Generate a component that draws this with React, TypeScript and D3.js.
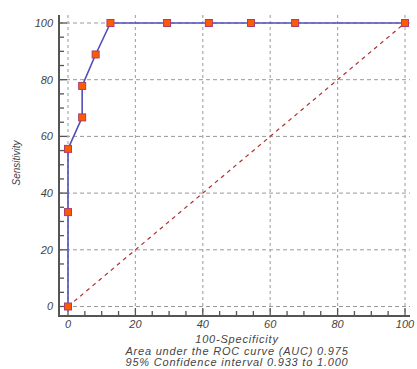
import React from "react";
import * as d3 from "d3";

// ROC curve points (100-Specificity, Sensitivity)
const fpr = [0, 0, 0, 4.2, 4.2, 8.2, 12.6, 29.4, 41.8, 54.3, 67.4, 100];
const tpr = [0, 33.3, 55.6, 66.7, 77.8, 88.9, 100, 100, 100, 100, 100, 100];
const majorTicks = [0, 20, 40, 60, 80, 100];
const minorTicks = d3.range(0, 101, 5);
const xLabel = "100-Specificity";
const yLabel = "Sensitivity";
const notes = ["Area under the ROC curve (AUC) 0.975", "95% Confidence interval 0.933 to 1.000"];

const W = 417;
const H = 369;

const App = () => {
  const x = d3.scaleLinear().domain([0, 100]).range([68, 405]);
  const y = d3.scaleLinear().domain([0, 100]).range([306.5, 23]);
  const axisX = 59;
  const axisY = 316;

  const pts = fpr.map((f, i) => [f, tpr[i]] as [number, number]);
  const line = d3.line<[number, number]>().x(d => x(d[0])).y(d => y(d[1]));

  const font = "'Liberation Sans', Arial, sans-serif";

  return (
    <svg width={W} height={H} style={{ position: "absolute", left: 0, top: 0 }} fontFamily={font}>
      <rect width={W} height={H} fill="#fff" />
      {/* grid */}
      {majorTicks.map(t => (
        <line key={"gh" + t} x1={axisX} x2={410} y1={y(t)} y2={y(t)} stroke="#999" strokeWidth={1} strokeDasharray="4,3" />
      ))}
      {majorTicks.map(t => (
        <line key={"gv" + t} x1={x(t)} x2={x(t)} y1={15} y2={axisY} stroke="#aaa" strokeWidth={1.2} strokeDasharray="3,3" />
      ))}
      {/* axes */}
      <line x1={axisX} x2={axisX} y1={15} y2={axisY + 1} stroke="#555" strokeWidth={2} />
      <line x1={axisX - 1} x2={410} y1={axisY} y2={axisY} stroke="#555" strokeWidth={2} />
      {minorTicks.map(t => {
        const major = t % 20 === 0;
        return (
          <g key={"t" + t}>
            <line x1={axisX} x2={axisX + (major ? 8 : 5)} y1={y(t)} y2={y(t)} stroke="#555" strokeWidth={1.3} />
            <line x1={x(t)} x2={x(t)} y1={axisY} y2={axisY - (major ? 8 : 5)} stroke="#555" strokeWidth={1.3} />
          </g>
        );
      })}
      {majorTicks.map(t => (
        <text key={"yl" + t} x={53} y={y(t)} dy="0.35em" textAnchor="end" fontSize={11} fontStyle="italic" fill="#444">{t}</text>
      ))}
      {majorTicks.map(t => (
        <text key={"xl" + t} x={x(t)} y={328} textAnchor="middle" fontSize={11} fontStyle="italic" fill="#444">{t}</text>
      ))}
      {/* diagonal */}
      <line x1={x(0)} y1={y(0)} x2={x(100)} y2={y(100)} stroke="#b03030" strokeWidth={1.2} strokeDasharray="4,4" />
      {/* ROC */}
      <path d={line(pts) || ""} fill="none" stroke="#5050b8" strokeWidth={1.6} />
      {pts.map((p, i) => (
        <rect key={"m" + i} x={x(p[0]) - 3.5} y={y(p[1]) - 3.5} width={7} height={7} fill="#ff5a00" stroke="#a8406a" strokeWidth={1} />
      ))}
      {/* labels */}
      <text transform={`translate(20,163) rotate(-90)`} textAnchor="middle" fontSize={10} fontStyle="italic" fill="#444">{yLabel}</text>
      <text x={237} y={343} textAnchor="middle" fontSize={11} letterSpacing={0.8} fontStyle="italic" fill="#444">{xLabel}</text>
      {notes.map((n, i) => (
        <text key={"n" + i} x={237} y={355 + i * 11} textAnchor="middle" fontSize={11} letterSpacing={0.8} fontStyle="italic" fill="#444">{n}</text>
      ))}
    </svg>
  );
};

export default App;
